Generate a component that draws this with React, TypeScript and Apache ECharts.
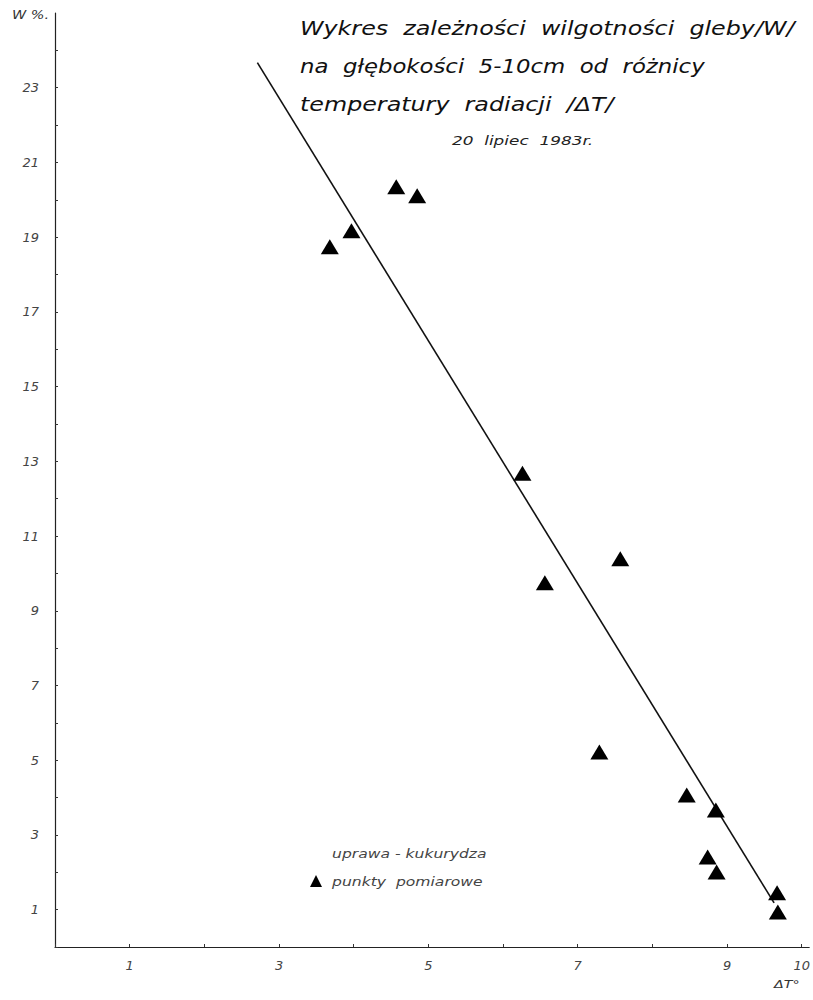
import React, { useEffect, useRef } from "react";
import * as echarts from "echarts";

// measured points: ΔT (x) vs W % (y)
const deltaT = [3.68, 3.97, 4.57, 4.85, 6.26, 6.56, 7.57, 7.29, 8.46, 8.85, 8.74, 8.86, 9.67, 9.68];
const moisture = [18.74, 19.17, 20.35, 20.11, 12.68, 9.75, 10.39, 5.22, 4.07, 3.67, 2.41, 2.01, 1.45, 0.94];
// regression line end points
const lineX = [2.71, 9.63];
const lineY = [23.67, 1.18];

const titleLines = [
  "Wykres  zależności  wilgotności  gleby/W/",
  "na  głębokości  5-10cm  od  różnicy",
  "temperatury  radiacji  /ΔT/",
];
const dateText = "20  lipiec  1983r.";
const legendCrop = "uprawa - kukurydza";
const seriesName = "punkty  pomiarowe";

export default function App() {
  const ref = useRef<HTMLDivElement>(null);
  useEffect(() => {
    if (!ref.current) return;
    const chart = echarts.init(ref.current, null, { renderer: "svg" });
    const font = "'DejaVu Sans', sans-serif";
    chart.setOption({
      animation: false,
      backgroundColor: "#fff",
      grid: { left: 55, right: 3, top: 13, bottom: 53 },
      xAxis: {
        type: "value",
        min: 0,
        max: 10.1,
        interval: 1,
        splitLine: { show: false },
        axisLine: { lineStyle: { color: "#222", width: 1.2 } },
        axisTick: { inside: true, length: 3, lineStyle: { color: "#333" } },
        axisLabel: {
          margin: 12,
          fontFamily: font,
          fontStyle: "italic",
          fontSize: 13,
          color: "#444",
          showMaxLabel: false,
          formatter: (v: number) => (v % 2 === 1 || v === 10 ? String(v) : ""),
        },
      },
      yAxis: {
        type: "value",
        min: 0,
        max: 25,
        interval: 1,
        splitLine: { show: false },
        axisLine: { lineStyle: { color: "#222", width: 1.2 } },
        axisTick: { inside: true, length: 3, lineStyle: { color: "#333" } },
        axisLabel: {
          margin: 16,
          fontFamily: font,
          fontStyle: "italic",
          fontSize: 13,
          color: "#444",
          showMaxLabel: false,
          formatter: (v: number) => (v % 2 === 1 ? String(v) : ""),
        },
      },
      series: [
        {
          name: "regresja",
          type: "line",
          data: lineX.map((x, i) => [x, lineY[i]]),
          symbol: "none",
          lineStyle: { color: "#111", width: 1.6 },
          z: 1,
        },
        {
          name: seriesName,
          type: "scatter",
          data: deltaT.map((x, i) => [x, moisture[i]]),
          symbol: "triangle",
          symbolSize: [18, 15],
          itemStyle: { color: "#000", opacity: 1 },
          z: 2,
        },
      ],
      graphic: [
        {
          type: "text",
          x: 12,
          y: 9,
          scaleX: 1.2,
          style: { text: "W %.", font: `italic 12px ${font}`, fill: "#333" },
        },
        {
          type: "text",
          x: 774,
          y: 979,
          scaleX: 1.3,
          style: { text: "ΔT°", font: `italic 11px ${font}`, fill: "#333" },
        },
        ...titleLines.map((t, i) => ({
          type: "text",
          x: 300,
          y: 18 + i * 38,
          scaleX: [1.19, 1.14, 1.19][i],
          style: { text: t, font: `italic 20px ${font}`, fill: "#111" },
        })),
        {
          type: "text",
          x: 452,
          y: 134,
          scaleX: 1.3,
          style: { text: dateText, font: `italic 13px ${font}`, fill: "#222" },
        },
        {
          type: "text",
          x: 332,
          y: 847,
          scaleX: 1.2,
          style: { text: legendCrop, font: `italic 13px ${font}`, fill: "#444" },
        },
        {
          type: "polygon",
          shape: { points: [[316, 875], [310, 887], [322, 887]] },
          style: { fill: "#000" },
        },
        {
          type: "text",
          x: 332,
          y: 875,
          scaleX: 1.2,
          style: { text: seriesName, font: `italic 13px ${font}`, fill: "#444" },
        },
      ],
    });
    return () => chart.dispose();
  }, []);
  return (
    <div
      ref={ref}
      style={{ position: "fixed", left: 0, top: 0, width: 813, height: 1000, background: "#fff" }}
    />
  );
}
